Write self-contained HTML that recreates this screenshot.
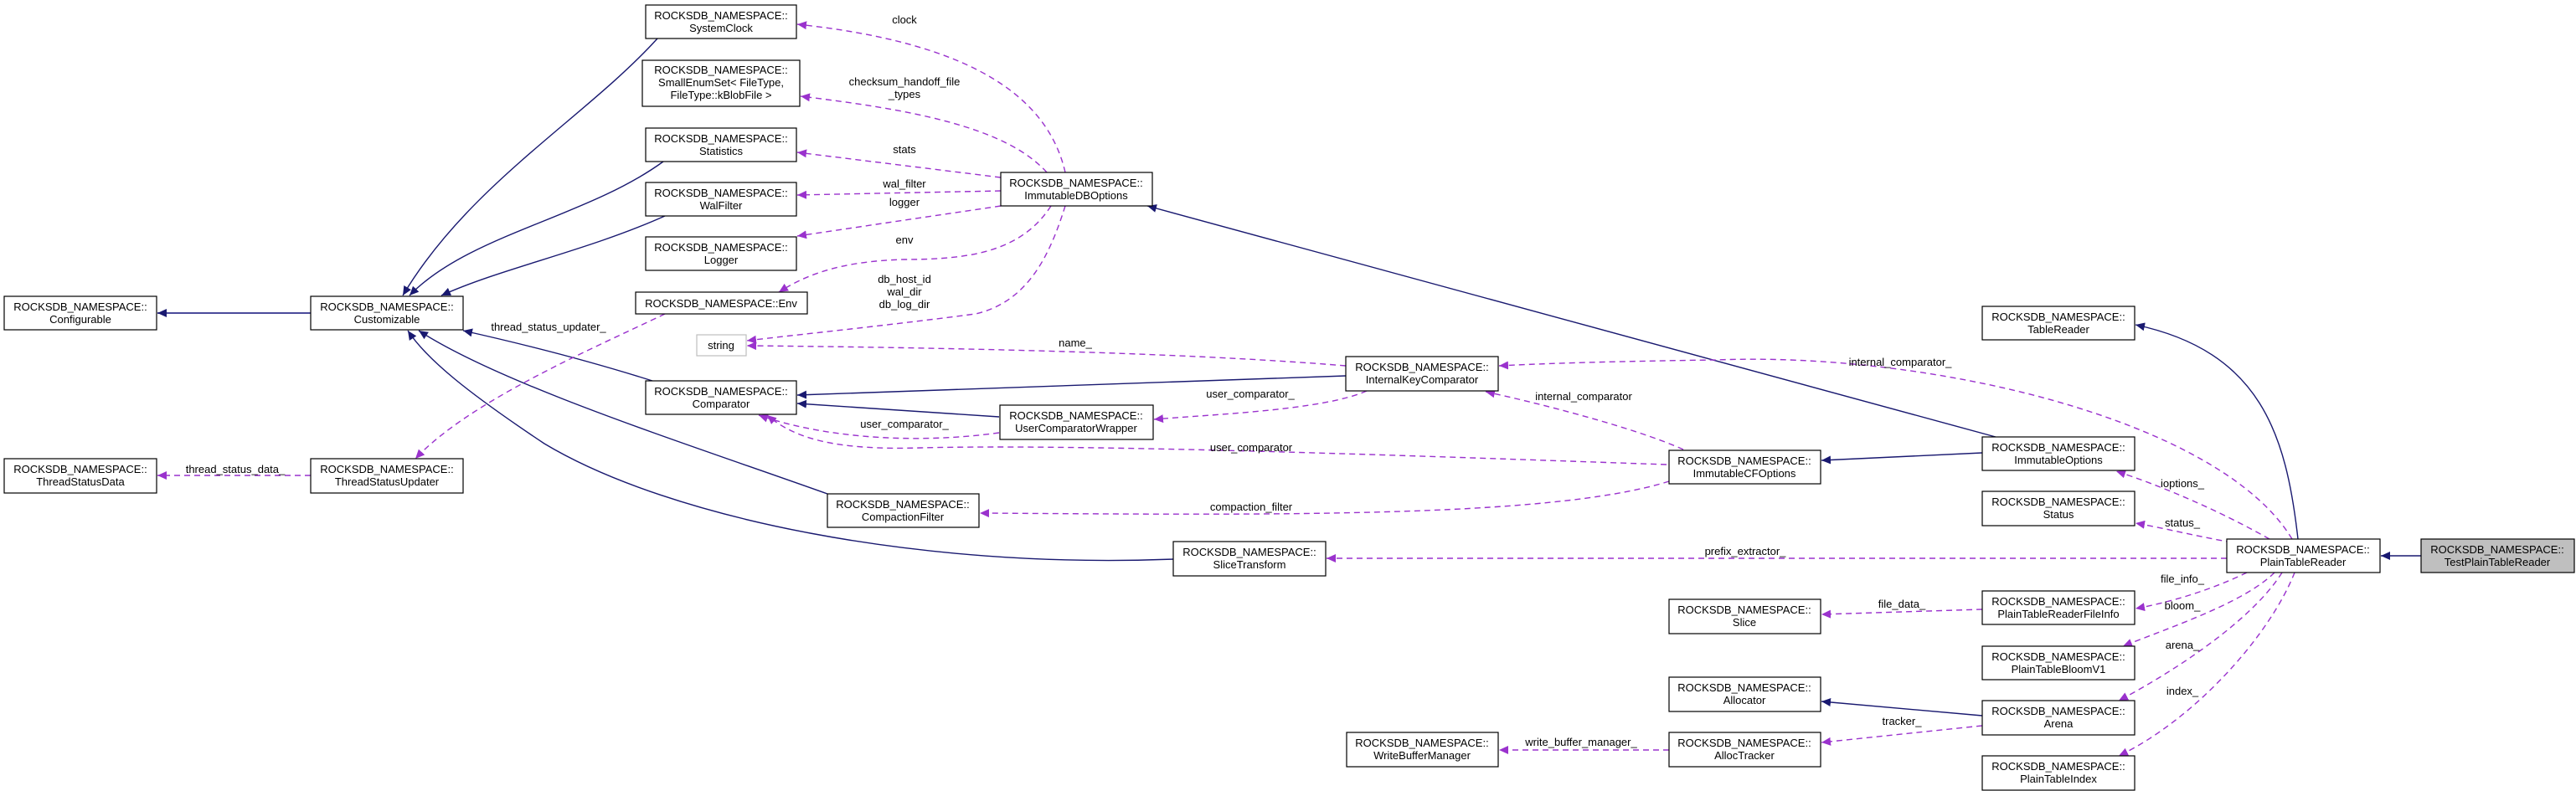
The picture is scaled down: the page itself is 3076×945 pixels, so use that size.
<!DOCTYPE html>
<html><head><meta charset="utf-8"><style>
html,body{margin:0;padding:0;background:#fff;}
svg{display:block;}
text{font-family:"Liberation Sans",sans-serif;font-size:13px;fill:#000;}
.n rect{fill:#fff;stroke:#000;stroke-width:1.2;}
.e{fill:none;stroke:#191970;stroke-width:1.4;}
.u{fill:none;stroke:#9a32cd;stroke-width:1.4;stroke-dasharray:7,5;}
</style></head><body>
<svg width="3076" height="945" viewBox="0 0 3076 945" xmlns="http://www.w3.org/2000/svg">
<defs>
<marker id="a" markerUnits="userSpaceOnUse" markerWidth="12" markerHeight="10" refX="11" refY="5" orient="auto"><path d="M0,0 L11,5 L0,10 z" fill="#191970"/></marker>
<marker id="p" markerUnits="userSpaceOnUse" markerWidth="12" markerHeight="10" refX="11" refY="5" orient="auto"><path d="M0,0 L11,5 L0,10 z" fill="#9a32cd"/></marker>
</defs>

<!-- inheritance edges -->
<g class="e" marker-end="url(#a)">
<path d="M371,374 L188,374" style="stroke:#4b4b9b;stroke-width:2"/>
<path d="M785,46 C700,140 560,220 481,353"/>
<path d="M792,193 C700,260 560,280 489,353"/>
<path d="M794,258 C700,300 600,320 527,353"/>
<path d="M779,455 C700,430 620,410 553,395"/>
<path d="M988,590 C820,530 600,460 500,395"/>
<path d="M1401,668 C1100,680 800,620 650,530 C560,470 510,430 487,395"/>
<path d="M1607,449 L952,472"/>
<path d="M1193,498 L952,482"/>
<path d="M2383,522 L1370,246"/>
<path d="M2367,541 L2175,550"/>
<path d="M2744,644 C2730,520 2700,420 2550,388"/>
<path d="M2891,664 L2843,664"/>
<path d="M2367,855 L2175,838"/>
</g>

<!-- usage edges -->
<g class="u" marker-end="url(#p)">
<path d="M1272,206 C1250,110 1150,50 952,29"/>
<path d="M1250,206 C1200,150 1080,130 956,115"/>
<path d="M1195,212 L952,182"/>
<path d="M1195,228 L952,233"/>
<path d="M1195,246 L952,282"/>
<path d="M1255,246 C1220,300 1160,310 1080,310 C1000,312 960,330 930,349"/>
<path d="M1272,246 C1255,300 1230,360 1165,375 C1050,390 950,400 892,407"/>
<path d="M1607,437 C1400,420 1100,415 892,413"/>
<path d="M1632,467 C1580,490 1450,495 1378,501"/>
<path d="M1193,517 C1100,530 990,525 906,496"/>
<path d="M1990,555 C1700,545 1300,530 1100,535 C1000,538 950,525 916,496"/>
<path d="M2010,537 C1950,510 1830,480 1774,468"/>
<path d="M1993,575 C1850,620 1500,615 1170,613"/>
<path d="M794,375 C700,420 560,480 496,548"/>
<path d="M371,568 L188,568"/>
<path d="M2737,644 C2650,500 2300,420 2050,430 C1900,432 1830,435 1790,437"/>
<path d="M2710,644 C2650,610 2580,580 2527,563"/>
<path d="M2665,648 C2620,640 2580,630 2550,625"/>
<path d="M2659,667 L1584,667"/>
<path d="M2683,684 C2640,705 2590,720 2550,727"/>
<path d="M2716,684 C2680,720 2590,750 2535,772"/>
<path d="M2725,684 C2690,740 2600,800 2530,837"/>
<path d="M2740,684 C2710,760 2620,860 2530,903"/>
<path d="M2367,728 L2175,734"/>
<path d="M2367,867 L2175,887"/>
<path d="M1993,896 L1790,896"/>
</g>

<!-- edge labels -->
<g text-anchor="middle">
<text x="1080" y="28">clock</text>
<text x="1080" y="102">checksum_handoff_file</text>
<text x="1080" y="117">_types</text>
<text x="1080" y="183">stats</text>
<text x="1080" y="224">wal_filter</text>
<text x="1080" y="246">logger</text>
<text x="1080" y="291">env</text>
<text x="1080" y="338">db_host_id</text>
<text x="1080" y="353">wal_dir</text>
<text x="1080" y="368">db_log_dir</text>
<text x="1284" y="414">name_</text>
<text x="1493" y="475">user_comparator_</text>
<text x="1080" y="511">user_comparator_</text>
<text x="1494" y="539">user_comparator</text>
<text x="1494" y="610">compaction_filter</text>
<text x="1891" y="478">internal_comparator</text>
<text x="655" y="395">thread_status_updater_</text>
<text x="281" y="565">thread_status_data_</text>
<text x="2269" y="437">internal_comparator_</text>
<text x="2606" y="582">ioptions_</text>
<text x="2606" y="629">status_</text>
<text x="2084" y="663">prefix_extractor_</text>
<text x="2606" y="696">file_info_</text>
<text x="2271" y="726">file_data_</text>
<text x="2606" y="728">bloom_</text>
<text x="2606" y="775">arena_</text>
<text x="2606" y="830">index_</text>
<text x="2271" y="866">tracker_</text>
<text x="1888" y="891">write_buffer_manager_</text>
</g>

<!-- nodes -->
<g class="n" text-anchor="middle">
<rect x="5" y="354" width="182" height="40"/><text x="96" y="371">ROCKSDB_NAMESPACE::</text><text x="96" y="386">Configurable</text>
<rect x="371" y="354" width="182" height="40"/><text x="462" y="371">ROCKSDB_NAMESPACE::</text><text x="462" y="386">Customizable</text>
<rect x="5" y="548" width="182" height="41"/><text x="96" y="565">ROCKSDB_NAMESPACE::</text><text x="96" y="580">ThreadStatusData</text>
<rect x="371" y="548" width="182" height="41"/><text x="462" y="565">ROCKSDB_NAMESPACE::</text><text x="462" y="580">ThreadStatusUpdater</text>
<rect x="771" y="6" width="180" height="40"/><text x="861" y="23">ROCKSDB_NAMESPACE::</text><text x="861" y="38">SystemClock</text>
<rect x="767" y="72" width="188" height="55"/><text x="861" y="88">ROCKSDB_NAMESPACE::</text><text x="861" y="103">SmallEnumSet&lt; FileType,</text><text x="861" y="118">FileType::kBlobFile &gt;</text>
<rect x="771" y="153" width="180" height="40"/><text x="861" y="170">ROCKSDB_NAMESPACE::</text><text x="861" y="185">Statistics</text>
<rect x="771" y="218" width="180" height="40"/><text x="861" y="235">ROCKSDB_NAMESPACE::</text><text x="861" y="250">WalFilter</text>
<rect x="771" y="283" width="180" height="40"/><text x="861" y="300">ROCKSDB_NAMESPACE::</text><text x="861" y="315">Logger</text>
<rect x="759" y="349" width="205" height="26"/><text x="861" y="367">ROCKSDB_NAMESPACE::Env</text>
<rect x="832" y="400" width="59" height="25" style="stroke:#bfbfbf"/><text x="861" y="417">string</text>
<rect x="771" y="455" width="180" height="40"/><text x="861" y="472">ROCKSDB_NAMESPACE::</text><text x="861" y="487">Comparator</text>
<rect x="988" y="590" width="181" height="40"/><text x="1078" y="607">ROCKSDB_NAMESPACE::</text><text x="1078" y="622">CompactionFilter</text>
<rect x="1195" y="206" width="181" height="40"/><text x="1285" y="223">ROCKSDB_NAMESPACE::</text><text x="1285" y="238">ImmutableDBOptions</text>
<rect x="1194" y="484" width="183" height="41"/><text x="1285" y="501">ROCKSDB_NAMESPACE::</text><text x="1285" y="516">UserComparatorWrapper</text>
<rect x="1607" y="426" width="182" height="41"/><text x="1698" y="443">ROCKSDB_NAMESPACE::</text><text x="1698" y="458">InternalKeyComparator</text>
<rect x="1401" y="647" width="182" height="41"/><text x="1492" y="664">ROCKSDB_NAMESPACE::</text><text x="1492" y="679">SliceTransform</text>
<rect x="1608" y="875" width="181" height="41"/><text x="1698" y="892">ROCKSDB_NAMESPACE::</text><text x="1698" y="907">WriteBufferManager</text>
<rect x="1993" y="538" width="181" height="40"/><text x="2083" y="555">ROCKSDB_NAMESPACE::</text><text x="2083" y="570">ImmutableCFOptions</text>
<rect x="1993" y="716" width="181" height="41"/><text x="2083" y="733">ROCKSDB_NAMESPACE::</text><text x="2083" y="748">Slice</text>
<rect x="1993" y="809" width="181" height="41"/><text x="2083" y="826">ROCKSDB_NAMESPACE::</text><text x="2083" y="841">Allocator</text>
<rect x="1993" y="875" width="181" height="41"/><text x="2083" y="892">ROCKSDB_NAMESPACE::</text><text x="2083" y="907">AllocTracker</text>
<rect x="2367" y="366" width="182" height="40"/><text x="2458" y="383">ROCKSDB_NAMESPACE::</text><text x="2458" y="398">TableReader</text>
<rect x="2367" y="522" width="182" height="40"/><text x="2458" y="539">ROCKSDB_NAMESPACE::</text><text x="2458" y="554">ImmutableOptions</text>
<rect x="2367" y="587" width="182" height="41"/><text x="2458" y="604">ROCKSDB_NAMESPACE::</text><text x="2458" y="619">Status</text>
<rect x="2367" y="706" width="182" height="40"/><text x="2458" y="723">ROCKSDB_NAMESPACE::</text><text x="2458" y="738">PlainTableReaderFileInfo</text>
<rect x="2367" y="772" width="182" height="40"/><text x="2458" y="789">ROCKSDB_NAMESPACE::</text><text x="2458" y="804">PlainTableBloomV1</text>
<rect x="2367" y="837" width="182" height="41"/><text x="2458" y="854">ROCKSDB_NAMESPACE::</text><text x="2458" y="869">Arena</text>
<rect x="2367" y="903" width="182" height="41"/><text x="2458" y="920">ROCKSDB_NAMESPACE::</text><text x="2458" y="935">PlainTableIndex</text>
<rect x="2659" y="644" width="183" height="40"/><text x="2750" y="661">ROCKSDB_NAMESPACE::</text><text x="2750" y="676">PlainTableReader</text>
<rect x="2891" y="644" width="183" height="40" style="fill:#bfbfbf"/><text x="2982" y="661">ROCKSDB_NAMESPACE::</text><text x="2982" y="676">TestPlainTableReader</text>
</g>
</svg>
</body></html>
